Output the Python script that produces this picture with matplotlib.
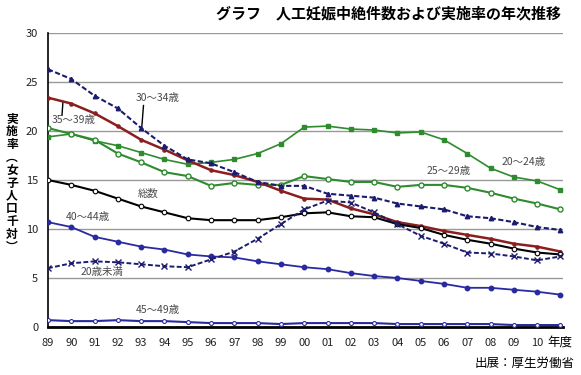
import matplotlib
matplotlib.use("Agg")
import matplotlib.pyplot as plt
import numpy as np

plt.rcParams['font.family'] = ['Noto Sans CJK JP', 'DejaVu Sans']

years = list(range(1989, 2012))
xtick_labels = ["89", "90", "91", "92", "93", "94", "95", "96", "97", "98", "99",
                "00", "01", "02", "03", "04", "05", "06", "07", "08", "09", "10"]

age_20_24 = [19.4, 19.7, 19.0, 18.5, 17.8, 17.1, 16.6, 16.8, 17.1, 17.7, 18.7, 20.4,
             20.5, 20.2, 20.1, 19.8, 19.9, 19.1, 17.7, 16.2, 15.3, 14.9, 14.0]
age_25_29 = [20.3, 19.7, 19.1, 17.7, 16.8, 15.8, 15.4, 14.4, 14.7, 14.5, 14.5, 15.4,
             15.1, 14.8, 14.8, 14.3, 14.5, 14.5, 14.2, 13.7, 13.1, 12.6, 12.0]
age_30_34 = [26.3, 25.3, 23.6, 22.3, 20.3, 18.5, 17.1, 16.7, 15.8, 14.8, 14.4, 14.4,
             13.6, 13.4, 13.2, 12.6, 12.3, 12.0, 11.3, 11.1, 10.7, 10.2, 9.9]
age_35_39 = [23.4, 22.8, 21.8, 20.5, 19.1, 18.1, 17.0, 16.0, 15.5, 14.8, 13.9, 13.1,
             13.0, 12.1, 11.5, 10.7, 10.3, 9.8, 9.4, 9.0, 8.5, 8.2, 7.7]
total = [15.0, 14.5, 13.9, 13.1, 12.3, 11.7, 11.1, 10.9, 10.9, 10.9, 11.2, 11.6,
         11.7, 11.3, 11.2, 10.5, 10.1, 9.4, 8.9, 8.5, 8.0, 7.6, 7.4]
age_40_44 = [10.7, 10.2, 9.2, 8.7, 8.2, 7.9, 7.4, 7.2, 7.1, 6.7, 6.4, 6.1,
             5.9, 5.5, 5.2, 5.0, 4.7, 4.4, 4.0, 4.0, 3.8, 3.6, 3.3]
under_20 = [6.0, 6.5, 6.7, 6.6, 6.4, 6.2, 6.1, 6.9, 7.7, 9.0, 10.5, 12.0,
            12.9, 12.7, 11.7, 10.5, 9.3, 8.5, 7.6, 7.5, 7.2, 6.8, 7.2]
age_45_49 = [0.7, 0.6, 0.6, 0.7, 0.6, 0.6, 0.5, 0.4, 0.4, 0.4, 0.3, 0.4,
             0.4, 0.4, 0.4, 0.3, 0.3, 0.3, 0.3, 0.3, 0.2, 0.2, 0.2]

fig = plt.figure(figsize=(5.81, 3.75), dpi=100)
ax = fig.add_axes([0.0826, 0.128, 0.886, 0.784])

green = "#2e8b2e"
navy = "#1c1c6e"
blue = "#2a2aa0"
red = "#8b1e1e"

ax.plot(years, age_20_24, color=green, lw=1.2, marker="s", ms=2.8, mfc=green, mec=green, zorder=3)
ax.plot(years, age_25_29, color=green, lw=1.5, marker="o", ms=3.6, mfc="white", mec=green, mew=1.0, zorder=3)
ax.plot(years, age_30_34, color=navy, lw=1.5, ls=(0, (2.5, 1.2)), marker="^", ms=3.2, mfc=navy, mec=navy, zorder=4)
ax.plot(years, age_35_39, color=red, lw=1.8, marker="o", ms=2.3, mfc=red, mec=red, zorder=3)
ax.plot(years, total, color="black", lw=1.5, marker="o", ms=3.3, mfc="white", mec="black", mew=0.8, zorder=3)
ax.plot(years, age_40_44, color=blue, lw=1.3, marker="o", ms=3.2, mfc=blue, mec=blue, zorder=3)
ax.plot(years, under_20, color=navy, lw=1.4, ls=(0, (2.5, 1.2)), marker="x", ms=3.8, mec=navy, mew=1.0, zorder=4)
ax.plot(years, age_45_49, color=blue, lw=1.5, marker="o", ms=2.8, mfc="white", mec=blue, mew=0.8, zorder=3)

ax.set_xlim(1989, 2011.1)
ax.set_ylim(0, 30)
ax.set_yticks([0, 5, 10, 15, 20, 25, 30])
ax.set_xticks(years[:-1])
ax.set_xticklabels(xtick_labels)
ax.yaxis.grid(True, color="#999999", lw=1.0)
ax.set_axisbelow(True)
for s in ["top", "right"]:
    ax.spines[s].set_visible(False)
ax.spines["left"].set_color("black")
ax.spines["left"].set_linewidth(1.2)
ax.spines["bottom"].set_color("black")
ax.spines["bottom"].set_linewidth(2.0)
ax.tick_params(axis="both", length=0, labelsize=8, colors="#222222")
ax.tick_params(axis="x", pad=8)
ax.tick_params(axis="y", pad=7)

ann_kw = dict(fontsize=7.5, color="#4a4a4a", ha="center", va="center")
ax.text(1993.7, 23.4, "30〜34歳", **ann_kw)
ax.plot([1993.1, 1993.03], [22.6, 20.5], color="black", lw=1.0)
ax.text(1990.1, 21.1, "35〜39歳", **ann_kw)
ax.plot([1989.64, 1989.6], [22.9, 21.6], color="black", lw=1.0)
ax.text(2006.2, 15.9, "25〜29歳", **ann_kw)
ax.text(2009.4, 16.8, "20〜24歳", **ann_kw)
ax.text(1993.3, 13.6, "総数", **ann_kw)
ax.text(1990.7, 11.2, "40〜44歳", **ann_kw)
ax.text(1991.3, 5.6, "20歳未満", **ann_kw)
ax.text(1993.7, 1.7, "45〜49歳", **ann_kw)

fig.text(389 / 581, 1 - 13 / 375, "グラフ　人工妊娠中絶件数および実施率の年次推移",
         fontsize=10.8, fontweight="bold", ha="center", va="center", color="black")
fig.text(12 / 581, 1 - 183 / 375, "実\n施\n率\n︵\n女\n子\n人\n口\n千\n対\n︶",
         fontsize=8.5, fontweight="bold", ha="center", va="center", linespacing=0.98)
fig.text(560 / 581, 1 - 342 / 375, "年度", fontsize=9, ha="center", va="center")
fig.text(575 / 581, 1 - 363 / 375, "出展：厚生労働省", fontsize=9, ha="right", va="center")

fig.savefig("out.png", dpi=100)
